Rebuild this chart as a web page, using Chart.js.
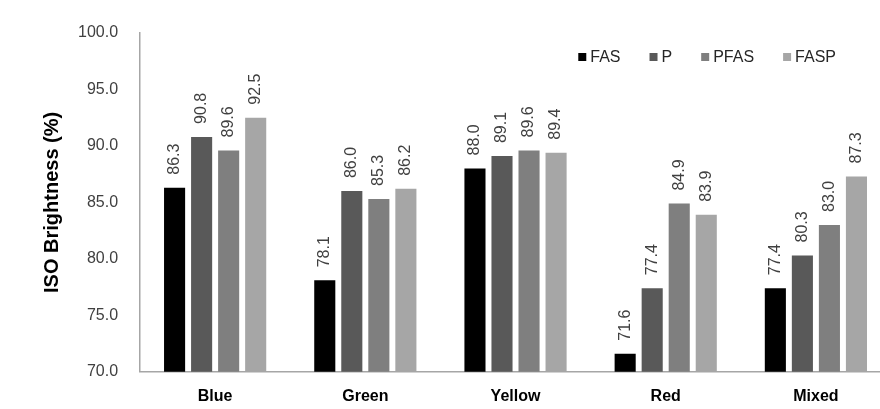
<!DOCTYPE html>
<html>
<head>
<meta charset="utf-8">
<script src="https://cdn.jsdelivr.net/npm/chart.js@4.4.1/dist/chart.umd.min.js"></script>
<style>
  html, body { margin: 0; padding: 0; background: #fff; overflow: hidden; }
  /* the plot runs a little past the right edge of the picture, as in the source */
  #wrap { width: 892px; height: 409px; }
</style>
</head>
<body>
<div id="wrap"><canvas id="chart"></canvas></div>
<script>
// Brightness of recycled pulps by ink colour, four treatment sequences
const categories = ['Blue', 'Green', 'Yellow', 'Red', 'Mixed'];
const seriesNames = ['FAS', 'P', 'PFAS', 'FASP'];
const fasValues = [86.3, 78.1, 88.0, 71.6, 77.4];
const pValues = [90.8, 86.0, 89.1, 77.4, 80.3];
const pfasValues = [89.6, 85.3, 89.6, 84.9, 83.0];
const faspValues = [92.5, 86.2, 89.4, 83.9, 87.3];
const yTicks = [70, 75, 80, 85, 90, 95, 100];

const FONT = '"Liberation Sans", Arial, sans-serif';
const colors = ['#000000', '#595959', '#7f7f7f', '#a6a6a6'];
const allValues = [fasValues, pValues, pfasValues, faspValues];

// draws the rotated value over each bar
const barLabels = {
  id: 'barLabels',
  afterDatasetsDraw(chart) {
    const ctx = chart.ctx;
    ctx.save();
    ctx.font = '16px ' + FONT;
    ctx.fillStyle = '#404040';
    ctx.textAlign = 'left';
    ctx.textBaseline = 'middle';
    chart.data.datasets.forEach((ds, i) => {
      const meta = chart.getDatasetMeta(i);
      meta.data.forEach((bar, j) => {
        ctx.save();
        ctx.translate(bar.x, bar.y - 13);
        ctx.rotate(-Math.PI / 2);
        ctx.fillText(ds.data[j].toFixed(1), 0, 0);
        ctx.restore();
      });
    });
    ctx.restore();
  }
};

// legend in one row, inside the plot, top right
const insideLegend = {
  id: 'insideLegend',
  afterDraw(chart) {
    const ctx = chart.ctx;
    const area = chart.chartArea;
    const box = 8, gap = 4, itemGap = 29;
    ctx.save();
    ctx.font = '16px ' + FONT;
    ctx.textBaseline = 'middle';
    ctx.textAlign = 'left';
    const widths = chart.data.datasets.map(ds => box + gap + ctx.measureText(ds.label).width);
    const total = widths.reduce((a, b) => a + b, 0) + itemGap * (widths.length - 1);
    let x = area.right - 55 - total;
    const y = area.top + 24;
    chart.data.datasets.forEach((ds, i) => {
      ctx.fillStyle = ds.backgroundColor;
      ctx.fillRect(x, y - box / 2, box, box);
      ctx.fillStyle = '#262626';
      ctx.fillText(ds.label, x + box + gap, y + 1);
      x += widths[i] + itemGap;
    });
    ctx.restore();
  }
};

new Chart(document.getElementById('chart'), {
  type: 'bar',
  data: {
    labels: categories,
    datasets: seriesNames.map((name, i) => ({
      label: name,
      data: allValues[i],
      backgroundColor: colors[i],
      borderWidth: 0,
      categoryPercentage: 0.72,
      barPercentage: 0.78
    }))
  },
  options: {
    responsive: true,
    maintainAspectRatio: false,
    animation: false,
    layout: { padding: { top: 33, right: 1, bottom: 0, left: 40 } },
    plugins: {
      tooltip: { enabled: false },
      legend: { display: false }
    },
    scales: {
      x: {
        afterFit(axis) { axis.height -= 4; },
        grid: { display: false },
        border: { display: true, color: '#a6a6a6', width: 1.5 },
        ticks: {
          color: '#000',
          padding: 7,
          font: { family: FONT, size: 16, weight: 'bold' }
        }
      },
      y: {
        min: 70,
        max: 100,
        afterBuildTicks(axis) { axis.ticks = yTicks.map(v => ({ value: v })); },
        grid: { display: false },
        border: { display: true, color: '#a6a6a6', width: 1.5 },
        ticks: {
          color: '#404040',
          padding: 14,
          callback: v => v.toFixed(1),
          font: { family: FONT, size: 16 }
        },
        title: {
          display: true,
          text: 'ISO Brightness (%)',
          color: '#000',
          padding: { top: 0, bottom: 0 },
          font: { family: FONT, size: 20, weight: 'bold' }
        }
      }
    }
  },
  plugins: [barLabels, insideLegend]
});
</script>
</body>
</html>
